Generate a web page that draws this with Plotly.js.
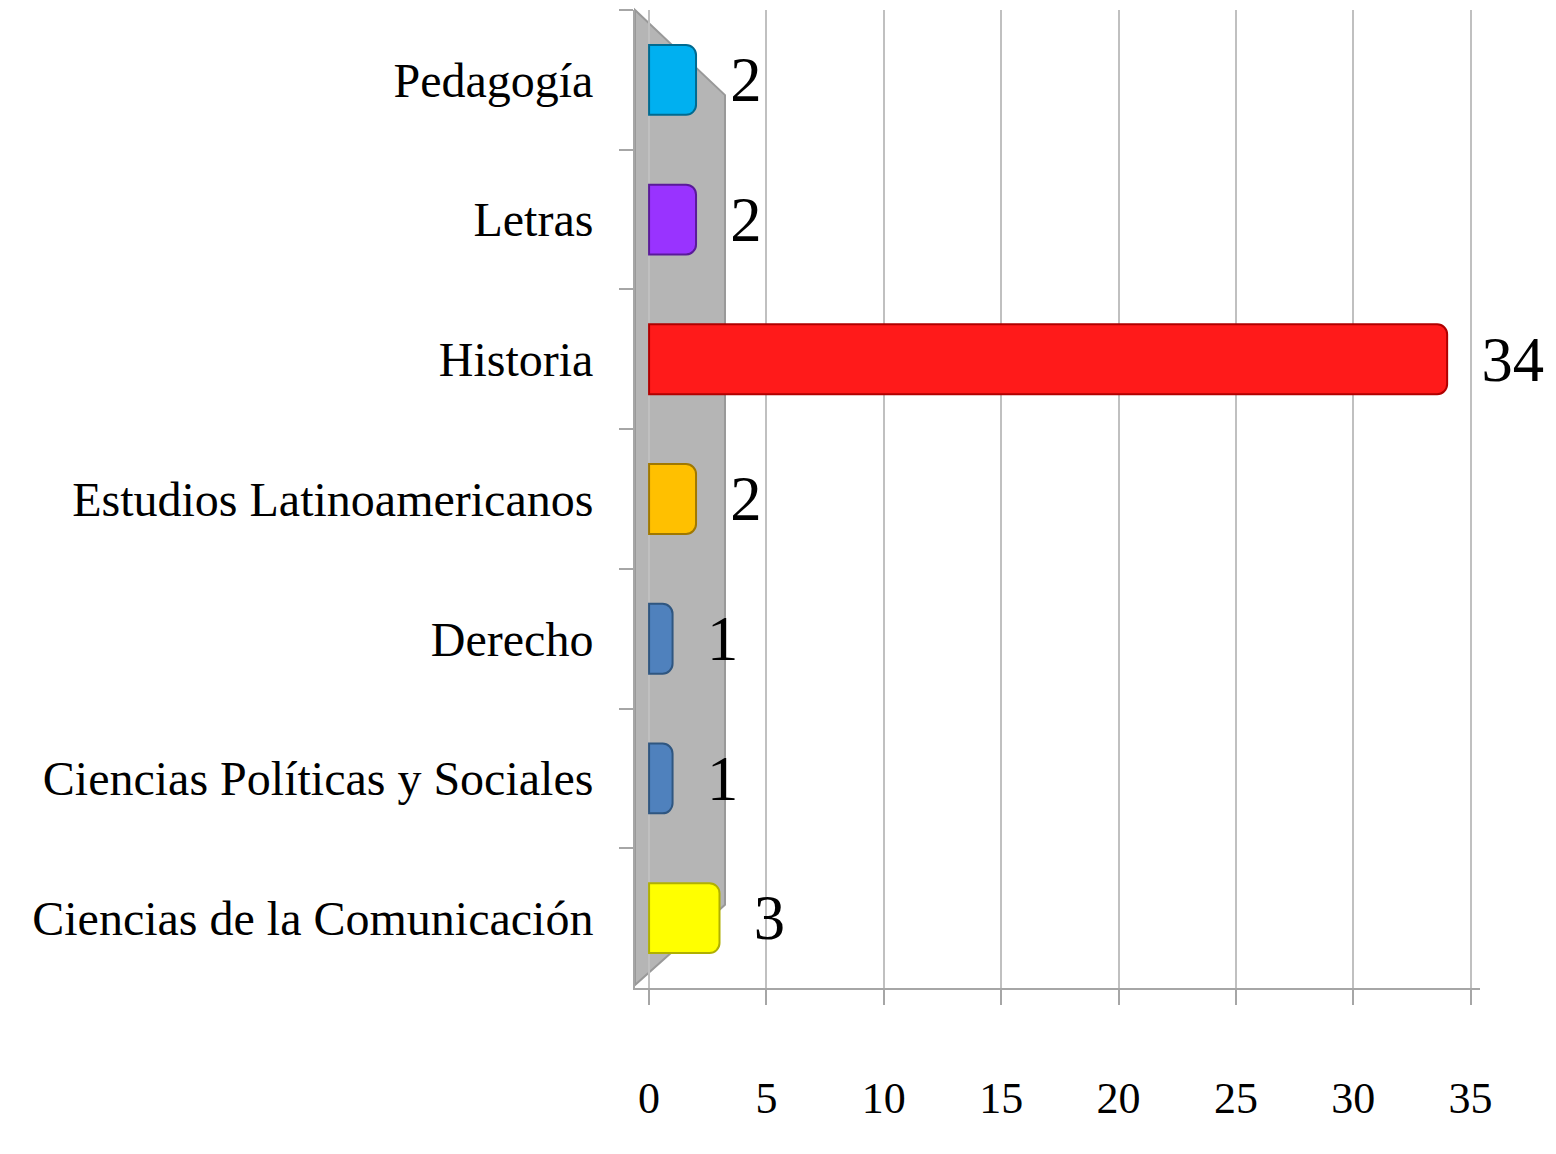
<!DOCTYPE html>
<html>
<head>
<meta charset="utf-8">
<script src="https://cdn.plot.ly/plotly-3.0.1.min.js"></script>
<style>html,body{margin:0;padding:0;background:#fff;}#chart{width:1556px;height:1154px;}</style>
</head>
<body>
<div id="chart"></div>
<script>
var categories = ["Pedagogía", "Letras", "Historia", "Estudios Latinoamericanos", "Derecho", "Ciencias Políticas y Sociales", "Ciencias de la Comunicación"];
var values = [2, 2, 34, 2, 1, 1, 3];
var barColors = ["#00B0F0", "#9933FF", "#FF1A1A", "#FFC000", "#4F81BD", "#4F81BD", "#FFFF00"];
var barEdgeColors = ["#006A90", "#5A1A99", "#B00000", "#A07800", "#2F5680", "#2F5680", "#B0B000"];
var xTicks = [0, 5, 10, 15, 20, 25, 30, 35];

var FONT = "Liberation Serif, Times New Roman, serif";

var trace = {
  type: "bar",
  orientation: "h",
  y: categories,
  x: values,
  width: 0.5,
  marker: {color: barColors, line: {width: 2, color: barEdgeColors}, cornerradius: 10},
  texttemplate: "  %{x}",
  textposition: "outside",
  textfont: {family: FONT, size: 78, color: "#000"},
  cliponaxis: false,
  hoverinfo: "x+y"
};

var layout = {
  width: 1556,
  height: 1154,
  margin: {l: 635, r: 76, t: 10, b: 166},
  paper_bgcolor: "#fff",
  plot_bgcolor: "#fff",
  showlegend: false,
  bargap: 0.5,
  xaxis: {
    range: [-0.6, 35.4],
    tickvals: xTicks,
    ticktext: xTicks.map(String),
    showgrid: true,
    gridcolor: "#C0C0C0",
    gridwidth: 2,
    zeroline: false,
    showline: true,
    linecolor: "#A6A6A6",
    linewidth: 2,
    ticks: "outside",
    ticklen: 15,
    tickwidth: 2,
    tickcolor: "#A6A6A6",
    ticklabelstandoff: 55,
    tickfont: {family: FONT, size: 44, color: "#000"}
  },
  yaxis: {
    type: "category",
    autorange: "reversed",
    showgrid: false,
    zeroline: false,
    showline: true,
    linecolor: "#A6A6A6",
    linewidth: 2,
    ticks: "outside",
    tickson: "boundaries",
    ticklen: 14,
    tickwidth: 2,
    tickcolor: "#A6A6A6",
    ticklabelstandoff: 30,
    tickfont: {family: FONT, size: 48, color: "#000"}
  },
  shapes: [{
    type: "path",
    xref: "paper",
    yref: "paper",
    path: "M 0 1 L 0.1065 0.913 L 0.1065 0.085 L 0 0.003 Z",
    fillcolor: "#B5B5B5",
    line: {color: "#999999", width: 2},
    layer: "between"
  }]
};

Plotly.newPlot("chart", [trace], layout, {displayModeBar: false, staticPlot: true});
</script>
</body>
</html>
